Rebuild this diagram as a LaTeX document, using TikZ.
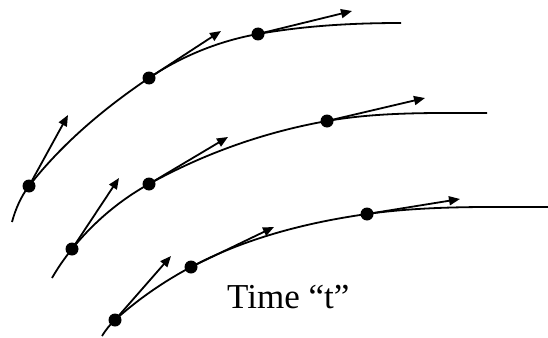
\documentclass[tikz,border=0pt]{standalone}
\usepackage{fontspec}
\setmainfont{Liberation Serif}
\usetikzlibrary{arrows.meta,calc}
\begin{document}
\begin{tikzpicture}[x=1pt,y=-1pt,
  curve/.style={line width=1.8pt},
  dot/.style={circle,fill=black,inner sep=0pt,minimum size=13pt},
  vec/.style={line width=1.8pt,-{Triangle[length=11pt,width=9pt]}}]
\useasboundingbox (0,0) rectangle (548,337);
% seg{A}{angA}{B}{angB}{L}
\def\seg#1#2#3#4#5{.. controls ($(#1)+(-#2:#5)$) and ($(#3)+(180-#4:#5)$) .. (#3)}
% curve 1
\coordinate (s1) at (12,222);
\coordinate (p11) at (29,186);
\coordinate (p12) at (149,78);
\coordinate (p13) at (258,34);
\coordinate (e1) at (401,23);
\coordinate (t11) at (68,115);
\coordinate (t12) at (221,31);
\coordinate (t13) at (352,11);
% curve 2
\coordinate (s2) at (52,278);
\coordinate (p21) at (72,249);
\coordinate (p22) at (149,184);
\coordinate (p23) at (327,121);
\coordinate (e2) at (487,113);
\coordinate (t21) at (119,178);
\coordinate (t22) at (228,137);
\coordinate (t23) at (425,98);
% curve 3
\coordinate (s3) at (102,336);
\coordinate (p31) at (115,320);
\coordinate (p32) at (191,267);
\coordinate (p33) at (367,214);
\coordinate (e3) at (548,207);
\coordinate (t31) at (171,256);
\coordinate (t32) at (274,227);
\coordinate (t33) at (460,199);

\draw[curve] (s1) \seg{s1}{75}{p11}{52}{13} \seg{p11}{52}{p12}{34}{54}
  \seg{p12}{34}{p13}{10}{39} \seg{p13}{10}{e1}{0}{48};
\draw[curve] (s2) \seg{s2}{60}{p21}{51}{12} \seg{p21}{51}{p22}{29}{34}
  \seg{p22}{29}{p23}{10}{63} \seg{p23}{10}{e2}{0}{53};
\draw[curve] (s3) \seg{s3}{58}{p31}{42}{7} \seg{p31}{42}{p32}{28}{31}
  \seg{p32}{28}{p33}{8}{61} \seg{p33}{8}{e3}{0}{60};

\foreach \c in {1,2,3}{
  \foreach \k in {1,2,3}{
    \draw[vec] (p\c\k) -- (t\c\k);
    \node[dot] (d\c\k) at (p\c\k) {};
  }
}
\node[font=\fontsize{35}{40}\selectfont,anchor=base west,inner sep=0pt] (lbl) at (227,308) {Time “t”};
\end{tikzpicture}
\end{document}
